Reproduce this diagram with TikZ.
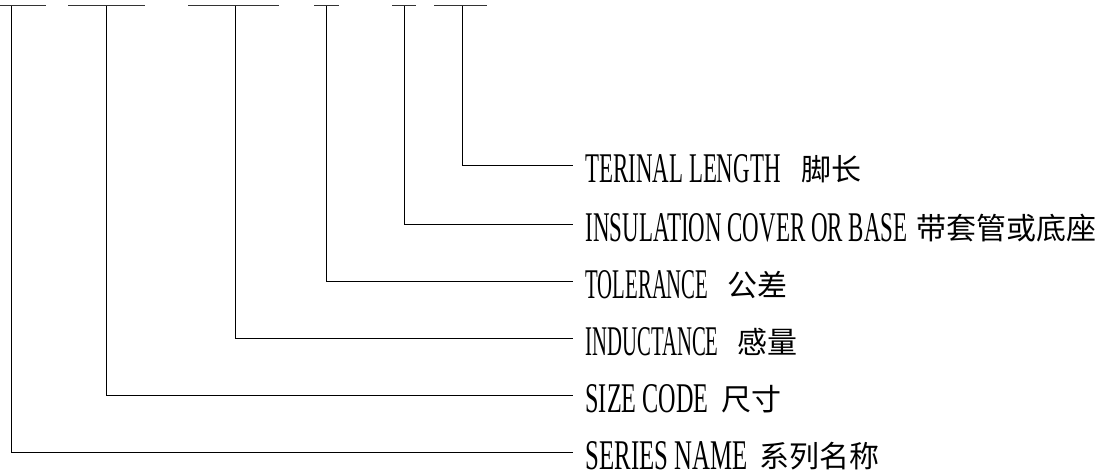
\documentclass[tikz,border=0pt]{standalone}
\usepackage{fontspec}
\setmainfont{Liberation Serif}
\newfontfamily\cjk{Noto Sans CJK SC}
\newcommand\latinfont{\fontsize{42}{48}\selectfont}
\newcommand\cn[1]{{\cjk\fontsize{30}{32}\selectfont\raisebox{2pt}{#1}}}
\newcommand\lt[2]{\resizebox{#1}{28pt}{#2}}
\begin{document}
\begin{tikzpicture}[x=1pt,y=-1pt,line width=1pt,
  lab/.style={anchor=west,inner xsep=12pt,inner ysep=0pt,text height=34pt,text depth=0pt,font=\latinfont},
  bar/.style={line width=1.3pt,draw=black!80},
  leader/.style={line width=1pt}]
\useasboundingbox (0,0) rectangle (1105,473);

% labels
\node[lab] (lterm) at (573,166) {\lt{195pt}{TERINAL LENGTH}\hspace{21pt}\cn{脚长}};
\node[lab] (lins)  at (573,224) {\lt{322pt}{INSULATION COVER OR BASE}\hspace{9pt}\cn{带套管或底座}};
\node[lab] (ltol)  at (573,281) {\lt{123pt}{TOLERANCE}\hspace{18.5pt}\cn{公差}};
\node[lab] (lind)  at (573,338) {\lt{133pt}{INDUCTANCE}\hspace{18.5pt}\cn{感量}};
\node[lab] (lsize) at (573,395) {\lt{123pt}{SIZE CODE}\hspace{12.5pt}\cn{尺寸}};
\node[lab] (lser)  at (573,452) {\lt{162pt}{SERIES NAME}\hspace{11.5pt}\cn{系列名称}};

% top bars
\coordinate (sa) at (0,5.7);   \coordinate (sb) at (46,5.7);  \coordinate (st) at (11,5.7);
\coordinate (za) at (68,5.7);  \coordinate (zb) at (145,5.7); \coordinate (zt) at (106,5.7);
\coordinate (ia) at (188,5.7); \coordinate (ib) at (279,5.7); \coordinate (it) at (235,5.7);
\coordinate (ta) at (314,5.7); \coordinate (tb) at (339,5.7); \coordinate (tt) at (326,5.7);
\coordinate (na) at (392,5.7); \coordinate (nb) at (416,5.7); \coordinate (nt) at (404,5.7);
\coordinate (ea) at (434,5.7); \coordinate (eb) at (487,5.7); \coordinate (et) at (462,5.7);

\draw[bar] (sa) -- (sb);
\draw[bar] (za) -- (zb);
\draw[bar] (ia) -- (ib);
\draw[bar] (ta) -- (tb);
\draw[bar] (na) -- (nb);
\draw[bar] (ea) -- (eb);

% leaders
\draw[leader] (st) |- (lser.west);
\draw[leader] (zt) |- (lsize.west);
\draw[leader] (it) |- (lind.west);
\draw[leader] (tt) |- (ltol.west);
\draw[leader] (nt) |- (lins.west);
\draw[leader] (et) |- (lterm.west);
\end{tikzpicture}
\end{document}
